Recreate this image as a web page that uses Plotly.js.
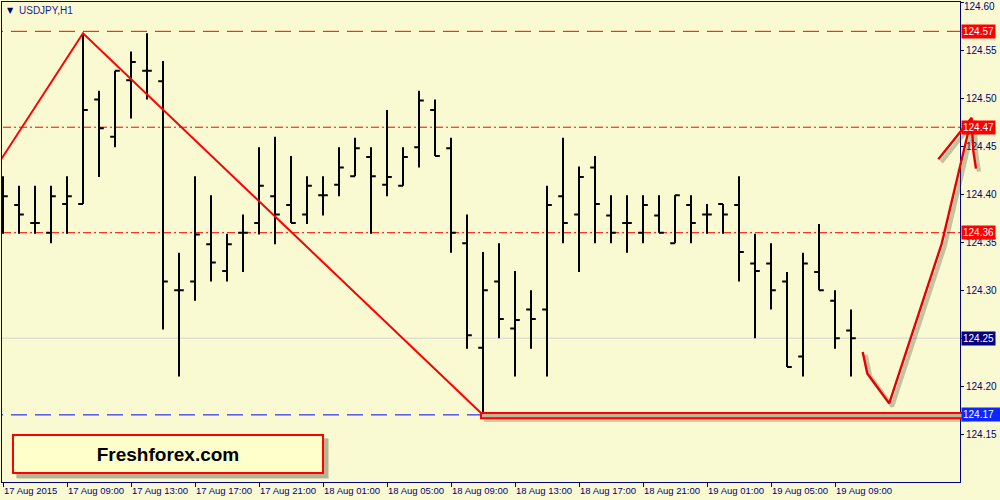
<!DOCTYPE html>
<html>
<head>
<meta charset="utf-8">
<script src="https://cdn.plot.ly/plotly-3.0.1.min.js"></script>
<style>
html,body{margin:0;padding:0;background:#fafad2;}
#chart{width:1000px;height:500px;}
</style>
</head>
<body>
<div id="chart"></div>
<script>
// ---- DATA ----
const barIdx = [0,1,2,3,4,5,6,7,8,9,10,11,12,13,14,15,16,17,18,19,20,21,22,23,24,25,26,
  27,28,29,30,31,32,33,34,35,36,37,38,39,40,41,42,43,44,45,46,47,48,49,50,51,52,53];
const opens = [124.390,124.389,124.370,124.360,124.390,124.390,124.499,124.460,124.519,124.529,
  124.518,124.300,124.309,124.348,124.320,124.360,124.370,124.398,124.389,124.379,
  124.399,124.410,124.419,124.439,124.410,124.409,124.449,124.488,124.448,124.349,
  124.240,124.309,124.260,124.280,124.280,124.398,124.379,124.428,124.378,124.370,
  124.360,124.378,124.349,124.389,124.379,124.390,124.389,124.328,124.328,124.309,
  124.231,124.319,124.289,124.258];
const highs = [124.419,124.409,124.409,124.409,124.419,124.568,124.508,124.529,124.549,124.568,
  124.539,124.339,124.419,124.399,124.359,124.379,124.449,124.460,124.440,124.419,
  124.419,124.449,124.459,124.449,124.488,124.449,124.508,124.499,124.459,124.379,
  124.340,124.349,124.320,124.300,124.409,124.459,124.429,124.440,124.399,124.399,
  124.399,124.399,124.399,124.399,124.390,124.390,124.419,124.359,124.349,124.319,
  124.339,124.369,124.300,124.280];
const lows = [124.359,124.359,124.359,124.349,124.359,124.390,124.418,124.449,124.479,124.499,
  124.259,124.210,124.289,124.309,124.309,124.319,124.358,124.348,124.370,124.369,
  124.378,124.398,124.419,124.359,124.398,124.409,124.428,124.440,124.339,124.239,
  124.172,124.250,124.210,124.239,124.210,124.349,124.319,124.349,124.349,124.339,
  124.349,124.360,124.349,124.349,124.359,124.359,124.309,124.250,124.280,124.220,
  124.210,124.300,124.239,124.210];
const closes = [124.398,124.379,124.370,124.398,124.398,124.488,124.469,124.529,124.538,124.529,
  124.309,124.300,124.358,124.329,124.348,124.360,124.409,124.379,124.370,124.409,
  124.399,124.428,124.448,124.419,124.418,124.439,124.498,124.440,124.360,124.253,
  124.300,124.270,124.269,124.270,124.389,124.370,124.418,124.390,124.360,124.370,
  124.389,124.360,124.399,124.370,124.379,124.379,124.340,124.320,124.300,124.220,
  124.328,124.300,124.250,124.250];

const tickBars = [0,4,8,12,16,20,24,28,32,36,40,44,48,52];
const tickLabels = ['17 Aug 2015','17 Aug 09:00','17 Aug 13:00','17 Aug 17:00','17 Aug 21:00',
  '18 Aug 01:00','18 Aug 05:00','18 Aug 09:00','18 Aug 13:00','18 Aug 17:00','18 Aug 21:00',
  '19 Aug 01:00','19 Aug 05:00','19 Aug 09:00'];
const priceTicks = [124.15,124.20,124.25,124.30,124.35,124.40,124.45,124.50,124.55,124.60];
const priceTickLabels = ['124.15','124.20','','124.30','124.35','124.40','124.45','124.50','124.55',''];
const topPriceLabel = '124.60';

const levelDashed = 124.57;
const levelDashDot = [124.47, 124.36];
const levelGray = 124.25;
const levelBlue = 124.17;

const trendX = [-0.5, 5, 29.875];
const trendY = [124.4267, 124.568, 124.172];

const arrowX = [53.73, 54.02, 55.39, 58.67, 60.54, 58.46, 59.94, 60.54, 60.64, 60.81];
const arrowY = [124.2357, 124.2132, 124.1820, 124.3486, 124.4799, 124.4365, 124.4667, 124.4799, 124.4458, 124.4268];

const supportBoxX = [29.875, 60.19];
const supportBoxY = [124.1665, 124.1720];

const tagValues = [124.57, 124.47, 124.36, 124.25, 124.17];
const tagColors = ['#ff0000','#ff0000','#ff0000','#000080','#0a28ff'];

const titleText = 'USDJPY,H1';
const brandText = 'Freshforex.com';

// ---- STYLE ----
const NAVY = '#000080';
const BG = '#fafad2';
const FONT = 'Liberation Sans, Arial, sans-serif';
const YTOP = 124.6006;

const traces = [
  {
    type: 'ohlc', x: barIdx, open: opens, high: highs, low: lows, close: closes,
    xaxis: 'x', yaxis: 'y', tickwidth: 0.3, hoverinfo: 'skip',
    increasing: {line: {color: '#000000', width: 2}},
    decreasing: {line: {color: '#000000', width: 2}}
  },
  {
    type: 'scatter', mode: 'lines', x: trendX, y: trendY, xaxis: 'x', yaxis: 'y',
    line: {color: '#ff0000', width: 2}, hoverinfo: 'skip'
  },
  {
    type: 'scatter', mode: 'lines',
    x: arrowX.map(v => v + 0.19), y: arrowY.map(v => v - 0.0031),
    xaxis: 'x2', yaxis: 'y2',
    line: {color: 'rgba(70,70,50,0.30)', width: 4}, hoverinfo: 'skip'
  },
  {
    type: 'scatter', mode: 'lines', x: arrowX, y: arrowY, xaxis: 'x2', yaxis: 'y2',
    line: {color: '#e80000', width: 2.4}, hoverinfo: 'skip'
  }
];

const shapes = [
  {type:'line', xref:'x', yref:'y', x0:-1, x1:61, y0:levelGray, y1:levelGray, layer:'below',
   line:{color:'#d3d3d3', width:1}},
  {type:'line', xref:'x', yref:'y', x0:-1, x1:61, y0:levelBlue, y1:levelBlue, layer:'below',
   line:{color:'#0000ff', width:1, dash:'16px,8px'}},
  {type:'line', xref:'x', yref:'y', x0:-1, x1:61, y0:levelDashed, y1:levelDashed, layer:'below',
   line:{color:'#ff0000', width:1, dash:'16px,8px'}},
  ...levelDashDot.map(v => ({type:'line', xref:'x', yref:'y', x0:-1, x1:61, y0:v, y1:v, layer:'below',
   line:{color:'#ff0000', width:1, dash:'8px,3px,2px,3px'}})),
  // shadow + support rectangle
  {type:'rect', xref:'x2', yref:'y2', x0:supportBoxX[0]+0.2, x1:supportBoxX[1]+0.2,
   y0:supportBoxY[0]-0.004, y1:supportBoxY[1]-0.004, layer:'above',
   fillcolor:'rgba(70,70,50,0.25)', line:{width:0}},
  {type:'rect', xref:'x2', yref:'y2', x0:supportBoxX[0], x1:supportBoxX[1],
   y0:supportBoxY[0], y1:supportBoxY[1], layer:'above',
   fillcolor:'#bdb59b', line:{color:'#ff0000', width:2}},
  // brand box shadow
  {type:'rect', xref:'paper', yref:'paper', x0:0.0150, x1:0.3277, y0:0.0062, y1:0.0897, layer:'above',
   fillcolor:'rgba(70,70,50,0.18)', line:{width:0}},
  {type:'rect', xref:'paper', yref:'paper', x0:0.0140, x1:0.3267, y0:0.0083, y1:0.0917, layer:'above',
   fillcolor:'rgba(70,70,50,0.25)', line:{width:0}}
];

const annotations = [
  ...tagValues.map((v, i) => ({
    xref:'paper', yref:'y', x:0.961, y:v, xanchor:'left', yanchor:'middle',
    text: v.toFixed(2), showarrow:false, bgcolor: tagColors[i], borderpad:1,
    width: i === 4 ? 36 : 31, align:'left',
    font:{family:FONT, size:10, color:'#ffffff'}
  })),
  {xref:'paper', yref:'paper', x:0.9629, y:1, xanchor:'left', yanchor:'top', yshift:2,
   text: topPriceLabel, showarrow:false, borderpad:0,
   font:{family:FONT, size:10, color:NAVY}},
  {xref:'paper', yref:'paper', x:0.0085, y:0.9825, xanchor:'center', yanchor:'middle',
   text:'▼', showarrow:false, font:{family:'DejaVu Sans', size:8, color:NAVY}},
  {xref:'paper', yref:'paper', x:0.1663, y:0.0583, xanchor:'center', yanchor:'middle',
   text:'<b>' + brandText + '</b>', showarrow:false, width:306, height:34,
   bgcolor:'#ffffcc', bordercolor:'#ff0000', borderwidth:2, borderpad:1,
   font:{family:FONT, size:19, color:'#000000'}}
];

const layout = {
  width: 1000, height: 500,
  margin: {l:2, r:0, t:2, b:18, pad:0},
  paper_bgcolor: BG, plot_bgcolor: 'rgba(0,0,0,0)',
  showlegend: false,
  font: {family: FONT, size: 10, color: NAVY},
  title: {text: titleText, x: 0.019, xanchor: 'left', y: 0.98, yanchor: 'middle',
          font: {family: FONT, size: 10, color: '#1a1a9a'}},
  xaxis: {
    domain: [0, 0.95992], range: [-0.0625, 59.8125], anchor: 'y',
    showgrid: false, zeroline: false, showline: true, mirror: true,
    linecolor: NAVY, linewidth: 1, ticks: 'outside', ticklen: 4, tickcolor: NAVY,
    tickmode: 'array', tickvals: tickBars, ticktext: tickLabels, tickangle: 0,
    ticklabelposition: 'outside right', tickfont: {family: FONT, size: 9.5, color: NAVY},
    rangeslider: {visible: false}, fixedrange: true, automargin: false
  },
  yaxis: {
    domain: [0, 1], range: [124.1, YTOP], anchor: 'x', side: 'right',
    showgrid: false, zeroline: false, showline: true, mirror: true,
    linecolor: NAVY, linewidth: 1, ticks: 'outside', ticklen: 3, tickcolor: NAVY,
    tickmode: 'array', tickvals: priceTicks, ticktext: priceTickLabels,
    tickfont: {family: FONT, size: 10, color: NAVY},
    fixedrange: true, automargin: false
  },
  xaxis2: {domain: [0, 1], range: [-0.0625, 62.3125], anchor: 'y2', visible: false, fixedrange: true},
  yaxis2: {domain: [0, 1], range: [124.1, YTOP], anchor: 'x2', visible: false, fixedrange: true},
  shapes: shapes,
  annotations: annotations
};

Plotly.newPlot('chart', traces, layout, {displayModeBar: false, staticPlot: true});
</script>
</body>
</html>
